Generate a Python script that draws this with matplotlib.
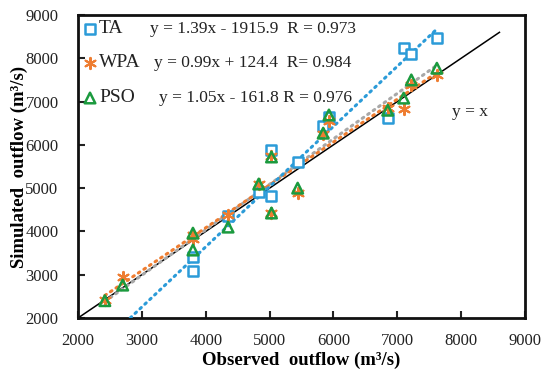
import matplotlib
matplotlib.use("Agg")
import matplotlib.pyplot as plt
import numpy as np

plt.rcParams['font.family'] = ['Liberation Serif', 'DejaVu Serif']

# Observed outflow (m3/s) and simulated outflow of each method
obs_ta = [3800, 3800, 4350, 4830, 5030, 5030, 5440, 5840, 5930, 6850, 7100, 7220, 7620]
sim_ta = [3400, 3085, 4350, 4910, 5880, 4820, 5600, 6430, 6640, 6620, 8240, 8100, 8470]

obs_wpa = [2420, 2700, 3800, 3800, 4350, 4830, 5030, 5030, 5440, 5840, 5930, 6850, 7100, 7220, 7620]
sim_wpa = [2420, 2950, 3920, 3820, 4380, 5100, 5750, 4420, 4890, 6250, 6550, 6850, 6830, 7380, 7610]

obs_pso = [2420, 2700, 3800, 3800, 4350, 4830, 5030, 5030, 5440, 5840, 5930, 6850, 7100, 7220, 7620]
sim_pso = [2400, 2760, 3960, 3570, 4100, 5095, 5720, 4425, 5000, 6270, 6690, 6800, 7080, 7500, 7770]

# Linear fits (slope, intercept)
fit_ta = (1.39, -1915.9)
fit_wpa = (0.99, 124.4)
fit_pso = (1.05, -161.8)
eq_ta = "y = 1.39x - 1915.9  R = 0.973"
eq_wpa = "y = 0.99x + 124.4  R= 0.984"
eq_pso = "y = 1.05x - 161.8 R = 0.976"

c_blue = '#2b9bd8'
c_orange = '#ee7d31'
c_green = '#1b9a3e'
c_gray = '#a8a8a8'
c_text = '#222222'

X0, X1, Y0, Y1 = 78, 525, 318, 15
fig = plt.figure(figsize=(5.42, 3.76), dpi=100)
ax = fig.add_axes([X0/542, 1-Y0/376, (X1-X0)/542, (Y0-Y1)/376])
ax.set_xlim(2000, 9000)
ax.set_ylim(2000, 9000)

# 1:1 line
ax.plot([2000, 8600], [2000, 8600], color='black', lw=1.1, zorder=2)

# trend lines
def trend(fit, x0, x1, color, zo):
    xs = np.linspace(x0, x1, 50)
    ax.plot(xs, fit[0]*xs + fit[1], color=color, lw=2.2, ls=(0, (0.6, 1.6)),
            dash_capstyle='round', zorder=zo)

trend(fit_pso, 2420, 7620, c_gray, 3)
trend(fit_wpa, 2420, 7620, c_orange, 3)
trend(fit_ta, (2000 - fit_ta[1]) / fit_ta[0], 7620, c_blue, 3)

ax.scatter(obs_ta, sim_ta, marker='s', s=58, facecolors='white', edgecolors=c_blue,
           linewidths=1.8, zorder=4)
ax.scatter(obs_wpa, sim_wpa, marker=(6, 2, 0), s=65, color=c_orange,
           linewidths=1.5, zorder=5)
ax.scatter(obs_pso, sim_pso, marker='^', s=58, facecolors='none', edgecolors=c_green,
           linewidths=1.8, zorder=6)

# legend with fit equations
def px2data(px, py):
    return (2000 + (px - X0) / ((X1 - X0) / 7000),
            2000 + (Y0 - py) / ((Y0 - Y1) / 7000))

for (mk, col, fc, name, eq, py, ex) in [
        ('s', c_blue, 'white', 'TA', eq_ta, 29, 150),
        ((6, 2, 0), c_orange, c_orange, 'WPA', eq_wpa, 63, 154),
        ('^', c_green, 'none', 'PSO', eq_pso, 98, 159)]:
    mx, my = px2data(90, py)
    if mk == (6, 2, 0):
        ax.scatter([mx], [my], marker=mk, s=65, color=col, linewidths=1.5, zorder=6)
    else:
        ax.scatter([mx], [my], marker=mk, s=58, facecolors=fc, edgecolors=col,
                   linewidths=1.8, zorder=6)
    tx, ty = px2data(99, py)
    ax.text(tx, ty, name, fontsize=14, va='center', ha='left', color=c_text)
    ex_, _ = px2data(ex, py)
    ax.text(ex_, ty, eq, fontsize=12.5, va='center', ha='left', color=c_text)

lx, ly = px2data(452, 112)
ax.text(lx, ly, 'y = x', fontsize=12.5, va='center', ha='left', color=c_text)

ax.set_xticks(np.arange(2000, 9001, 1000))
ax.set_yticks(np.arange(2000, 9001, 1000))
ax.tick_params(axis='both', direction='in', length=5, width=1.5, labelsize=12,
               top=False, right=False, colors=c_text)
ax.tick_params(axis='y', pad=14)
ax.tick_params(axis='x', pad=11)
for s in ax.spines.values():
    s.set_linewidth(2)
    s.set_color('#111111')

ax.set_xlabel('Observed  outflow (m³/s)', fontsize=13.5, fontweight='bold', labelpad=2)
ax.set_ylabel('Simulated  outflow (m³/s)', fontsize=13.5, fontweight='bold', labelpad=-2)

fig.savefig('out.png', dpi=100)
